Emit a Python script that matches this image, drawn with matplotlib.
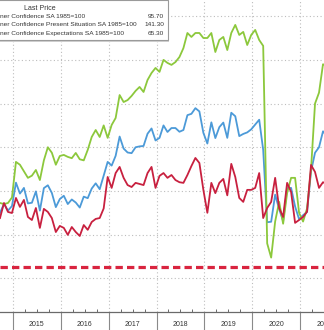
import numpy as np
import matplotlib
matplotlib.use("Agg")
import matplotlib.pyplot as plt
import matplotlib.transforms as mtransforms
from matplotlib.patches import Rectangle

# ---------------- data (monthly, Sep 2014 .. Jul 2021) ----------------
first_month = -4  # months relative to Jan 2015 (Sep 2014)

confidence = [90.0, 94.1, 91.0, 93.1,
              103.8, 98.8, 101.4, 94.3, 94.6, 99.8, 91.0, 101.3, 102.6, 99.1, 92.6, 96.3,
              97.8, 94.0, 96.1, 94.7, 92.4, 97.4, 96.7, 101.1, 103.5, 100.8, 107.0, 113.3,
              111.6, 116.1, 124.9, 119.4, 117.6, 117.3, 120.0, 120.4, 120.6, 126.2, 128.6, 123.1,
              124.3, 130.0, 127.0, 128.8, 128.8, 127.1, 127.9, 134.7, 135.3, 137.9, 136.4, 126.6,
              121.7, 131.4, 124.2, 129.2, 131.3, 124.3, 135.8, 134.2, 125.1, 126.1, 126.8, 128.2,
              130.4, 132.6, 118.8, 85.7, 85.9, 98.3, 91.7, 86.3, 101.3, 101.4, 92.9, 87.1,
              88.9, 90.4, 109.0, 117.5, 120.0, 127.3, 125.1]

present = [94.5, 94.0, 94.5, 97.0,
           113.3, 112.0, 109.0, 106.0, 107.0, 109.6, 105.0, 114.0, 120.0, 117.5, 112.0, 116.0,
           116.5, 115.6, 115.0, 117.4, 114.5, 114.0, 118.8, 124.7, 127.9, 124.7, 130.0, 124.3,
           130.2, 133.4, 143.9, 140.7, 141.6, 143.5, 145.8, 147.6, 145.3, 150.8, 154.0, 156.3,
           154.5, 160.0, 158.6, 157.7, 159.0, 161.3, 165.4, 172.3, 170.5, 172.3, 172.3, 170.0,
           170.0, 172.3, 163.6, 169.1, 170.5, 164.5, 172.3, 176.0, 171.4, 172.8, 166.8, 171.4,
           173.7, 169.1, 166.4, 76.0, 69.5, 86.0, 95.0, 85.0, 99.0, 106.0, 106.0, 90.0,
           86.0, 92.0, 110.0, 140.0, 145.0, 158.0, 157.0]

expectations = [87.6, 94.5, 90.4, 89.9,
                96.8, 92.7, 95.9, 88.1, 86.7, 92.2, 83.1, 91.8, 90.4, 87.6, 81.2, 84.0,
                83.1, 79.9, 83.5, 81.2, 79.4, 84.4, 82.2, 85.8, 87.2, 87.6, 92.0, 106.4,
                101.4, 108.2, 111.0, 106.0, 102.7, 101.8, 103.7, 103.2, 102.7, 108.2, 111.0, 101.4,
                106.9, 108.2, 106.0, 107.3, 105.0, 104.0, 103.7, 107.3, 111.4, 115.1, 112.8, 100.5,
                90.0, 103.7, 99.0, 103.7, 105.5, 98.0, 112.4, 106.4, 96.8, 95.0, 100.5, 100.5,
                101.4, 108.2, 87.6, 92.2, 95.0, 106.0, 92.2, 88.1, 103.7, 99.5, 85.4, 86.7,
                88.1, 90.5, 111.9, 108.7, 101.4, 104.0, 103.0]

years = ["2015", "2016", "2017", "2018", "2019", "2020", "2021"]
legend_labels = ["ner Confidence SA 1985=100",
                 "ner Confidence Present Situation SA 1985=100",
                 "ner Confidence Expectations SA 1985=100"]
last_prices = ["95.70", "141.30", "65.30"]
last_expectations = 65.3

# ---------------- styling ----------------
W, H = 324, 330
GREEN = "#8CC83C"
BLUE = "#4C9AD8"
RED = "#C8203F"
DASH_RED = "#D9243F"
GRID = "#BDBDBD"
FONT = "Liberation Sans"

fig = plt.figure(figsize=(W / 100, H / 100), dpi=100)
fig.patch.set_facecolor("white")
ax = fig.add_axes([0, (H - 312) / H, 1, 312 / H])
ax.set_facecolor("white")

t = np.arange(len(confidence)) + first_month + 0.75
ax.plot(t, confidence, color=BLUE, lw=1.3, solid_joinstyle="round", zorder=3)
ax.plot(t, present, color=GREEN, lw=1.3, solid_joinstyle="round", zorder=3)
ax.plot(t, expectations, color=RED, lw=1.3, solid_joinstyle="round", zorder=4)
ax.axhline(last_expectations, color=DASH_RED, lw=2.3, dashes=(2.3, 1.3), zorder=5)

ax.set_xlim(-3.25, 77.75)
ax.set_ylim(44.6, 187.4)

ax.set_xticks(np.arange(0, 84, 12))
ax.set_xticks(np.arange(0, 80, 3), minor=True)
ax.set_yticks(np.arange(60, 200, 20))
ax.grid(True, which="major", linestyle=(0, (1, 2.2)), color=GRID, lw=0.8)
ax.tick_params(axis="y", left=False, right=False, labelleft=False)
ax.tick_params(axis="x", which="major", direction="out", length=14, width=0.8,
               color="#8A8A8A", labelbottom=False)
ax.tick_params(axis="x", which="minor", direction="in", length=2.2, width=0.7,
               color="#6A6A6A")
for s in ["top", "left", "right"]:
    ax.spines[s].set_visible(False)
ax.spines["bottom"].set_color("#6A6A6A")
ax.spines["bottom"].set_linewidth(0.9)

trans = mtransforms.blended_transform_factory(ax.transData, fig.transFigure)
for i, yl in enumerate(years):
    ax.text(6 + 12 * i, (H - 325) / H, yl, transform=trans, ha="center", va="center",
            fontsize=5.0, family=FONT, color="#333333", clip_on=False)

# ---------------- legend box ----------------
def fx(px):
    return px / W

def fy(py):
    return 1 - py / H

shadow = Rectangle((fx(-3), fy(42)), fx(172), 42 / H, transform=fig.transFigure,
                   facecolor="#D0D0D0", edgecolor="none", zorder=9)
box = Rectangle((fx(-3), fy(40)), fx(170.5), 40.5 / H, transform=fig.transFigure,
                facecolor="white", edgecolor="#9A9A9A", lw=0.8, zorder=10)
fig.patches.extend([shadow, box])
fig.text(fx(40), fy(8.5), "Last Price", ha="center", va="center", fontsize=5.0,
         family=FONT, color="#333333", zorder=11)
rows_y = [16.5, 25, 33.5]
for lab, val, yy in zip(legend_labels, last_prices, rows_y):
    fig.text(fx(-0.5), fy(yy), lab, ha="left", va="center", fontsize=4.65,
             family=FONT, color="#333333", zorder=11)
    fig.text(fx(164), fy(yy), val, ha="right", va="center", fontsize=4.65,
             family=FONT, color="#333333", zorder=11)

fig.savefig("out.png", dpi=100, facecolor="white")
